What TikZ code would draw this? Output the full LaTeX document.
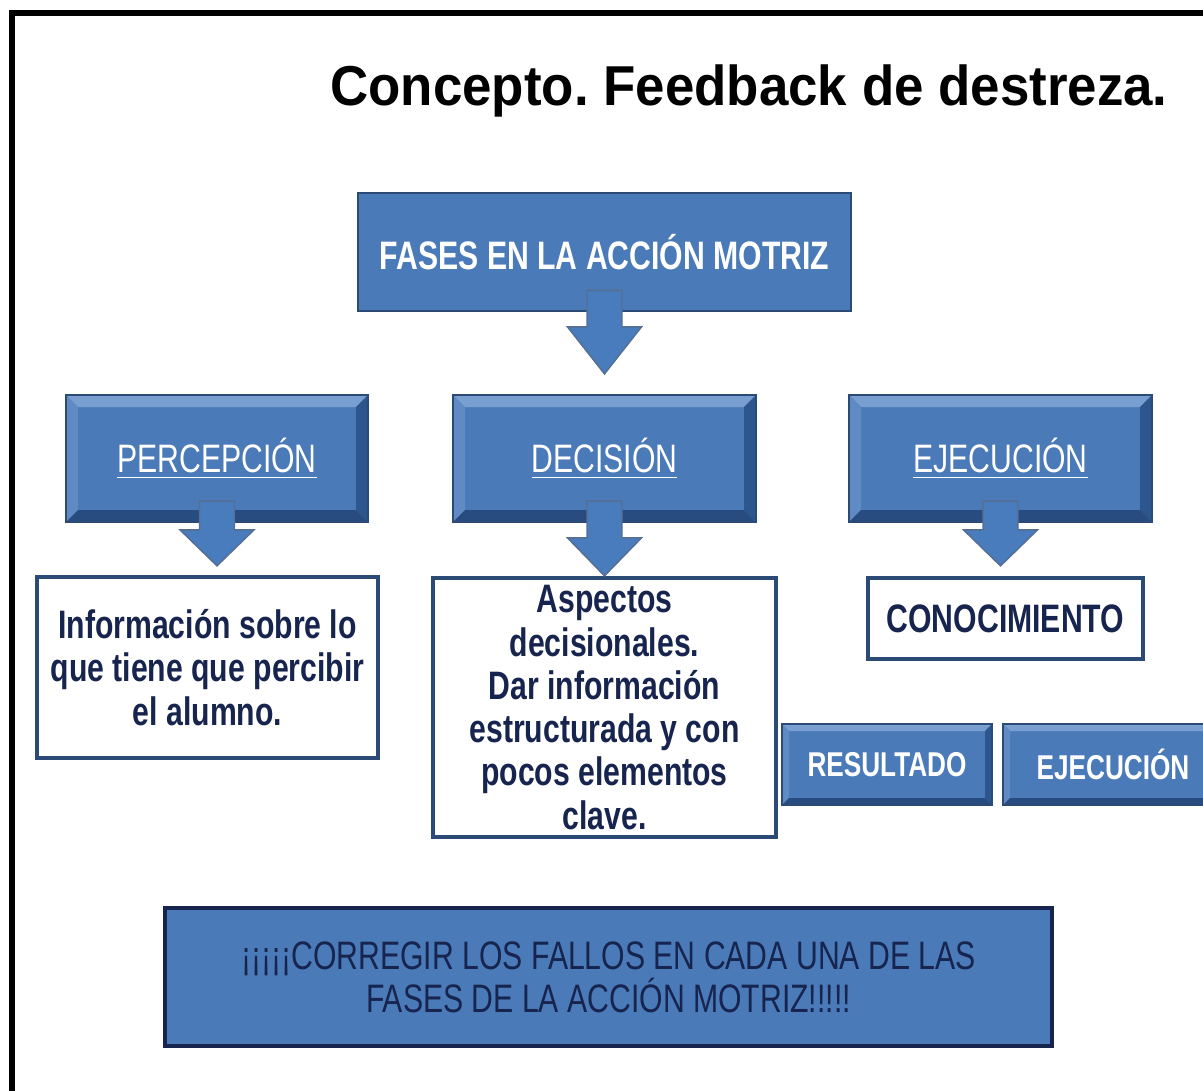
\documentclass[tikz,border=0pt]{standalone}
\usepackage{fontspec}
\setmainfont{Liberation Sans}
\newfontfamily\estrecha[FakeStretch=0.76]{Liberation Sans}
\newfontfamily\titular[FakeStretch=0.94]{Liberation Sans}
\usetikzlibrary{calc}
\frenchspacing

\definecolor{azulcara}{RGB}{74,122,184}
\definecolor{azulclaro}{RGB}{120,158,210}
\definecolor{azulmedio}{RGB}{96,138,196}
\definecolor{azuloscuro}{RGB}{46,86,142}
\definecolor{azulsombra}{RGB}{40,76,128}
\definecolor{bordeazul}{RGB}{44,74,118}
\definecolor{textoazul}{RGB}{22,36,78}
\definecolor{flechaazul}{RGB}{72,124,188}

\newcommand{\tam}{\fontsize{11.3}{12.3}\selectfont}
\newcommand{\chico}{\fontsize{9.8}{11}\selectfont}

% flecha de bloque desde el centro de #2 hasta el borde superior de #3
\newcommand{\flecha}[4][0]{%
\filldraw[draw=bordeazul!80, line width=0.4pt, fill=flechaazul]
 ($(#2.south)+(-0.175,0.22)$) -- ($(#2.south |- #3.north)+(-0.175,#4+#1)$) -- ++(-0.195,0)
 -- ($(#2.south |- #3.north)+(0,#1)$) -- ++(0.37,#4) -- ++(-0.195,0)
 -- ($(#2.south)+(0.175,0.22)$) -- cycle;}

\begin{document}
\begin{tikzpicture}[
 plano/.style={draw=bordeazul, line width=0.8pt, fill=azulcara, text=white, inner sep=0pt, font=\estrecha\tam\bfseries},
 blanco/.style={draw=bordeazul, line width=1.2pt, fill=white, text=textoazul, inner sep=0pt, align=center, font=\estrecha\tam\bfseries},
 bisel/.style={draw=bordeazul, line width=0.6pt, fill=azulcara, text=white, inner sep=0pt,
  path picture={
   \path (path picture bounding box.north west) coordinate (pbnw)
         (path picture bounding box.south east) coordinate (pbse);
   \fill[azulclaro] (pbnw) -- (pbnw -| pbse) -- ++(-#1,-#1) -- ($(pbnw)+(#1,-#1)$) -- cycle;
   \fill[azulmedio] (pbnw) -- ($(pbnw)+(#1,-#1)$) -- ($(pbnw |- pbse)+(#1,#1)$) -- (pbnw |- pbse) -- cycle;
   \fill[azuloscuro] (pbnw -| pbse) -- (pbse) -- ++(-#1,#1) -- ($(pbnw -| pbse)+(-#1,-#1)$) -- cycle;
   \fill[azulsombra] (pbnw |- pbse) -- (pbse) -- ++(-#1,#1) -- ($(pbnw |- pbse)+(#1,#1)$) -- cycle;
  }},
 bisel/.default=0.12
]
\path[use as bounding box, clip] (0,0) rectangle (12.03,-10.91);
\draw[line width=1.5pt] (0.12,-11.2) |- (12.3,-0.13);

\node[font=\titular\bfseries\fontsize{16}{19}\selectfont] (titulo) at (7.49,-0.91) {Concepto. Feedback de destreza.};

\node[plano, minimum width=4.93cm, minimum height=1.18cm] (fases) at (6.045,-2.52) {FASES EN LA ACCIÓN MOTRIZ};

\node[bisel, minimum width=3.02cm, minimum height=1.27cm, font=\estrecha\tam] (percepcion) at (2.17,-4.585) {\underline{PERCEPCIÓN}};
\node[bisel, minimum width=3.03cm, minimum height=1.27cm, font=\estrecha\tam] (decision) at (6.045,-4.585) {\underline{DECISIÓN}};
\node[bisel, minimum width=3.03cm, minimum height=1.27cm, font=\estrecha\tam] (ejecucion) at (10.005,-4.585) {\underline{EJECUCIÓN}};

\node[blanco, minimum width=3.41cm, minimum height=1.81cm] (info) at (2.075,-6.675) {Información sobre lo\\que tiene que percibir\\el alumno.};
\node[blanco, minimum width=3.43cm, minimum height=2.59cm] (aspectos) at (6.045,-7.075) {Aspectos\\decisionales.\\Dar información\\estructurada y con\\pocos elementos\\clave.};
\node[blanco, minimum width=2.75cm, minimum height=0.81cm] (conocimiento) at (10.055,-6.185) {CONOCIMIENTO};

\node[bisel=0.07, minimum width=2.10cm, minimum height=0.81cm, font=\estrecha\chico\bfseries] (resultado) at (8.87,-7.645) {RESULTADO};
\node[bisel=0.07, minimum width=2.20cm, minimum height=0.81cm, font=\estrecha\chico\bfseries] (ejecucion2) at (11.13,-7.645) {EJECUCIÓN};

\node[plano, line width=1pt, draw=textoazul, text=textoazul, align=center, font=\estrecha\tam, minimum width=8.87cm, minimum height=1.38cm] (corregir) at (6.085,-9.77) {¡¡¡¡¡CORREGIR LOS FALLOS EN CADA UNA DE LAS\\FASES DE LA ACCIÓN MOTRIZ!!!!!};

\flecha[0.2]{fases}{decision}{0.47}
\flecha[0.09]{percepcion}{info}{0.36}
\flecha{decision}{aspectos}{0.38}
\flecha[0.1]{ejecucion}{conocimiento}{0.36}
\end{tikzpicture}
\end{document}
